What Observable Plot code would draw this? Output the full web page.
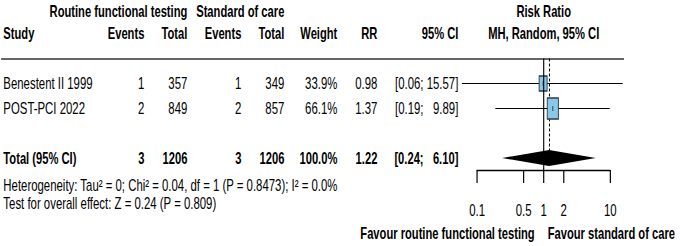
<!DOCTYPE html>
<html>
<head>
<meta charset="utf-8">
<script src="https://cdn.jsdelivr.net/npm/d3@7"></script>
<script src="https://cdn.jsdelivr.net/npm/@observablehq/plot@0.6"></script>
<style>
  html, body { margin: 0; padding: 0; background: #fff; }
  #chart { position: relative; width: 680px; height: 246px; }
  #chart svg { position: absolute; left: 0; top: 0; overflow: visible; }
</style>
</head>
<body>
<div id="chart"></div>
<script>
// ---- data ----
const studies = ["Benestent II 1999", "POST-PCI 2022"];
const eventsRoutine = [1, 2];
const totalRoutine = [357, 849];
const eventsStandard = [1, 2];
const totalStandard = [349, 857];
const weights = [33.9, 66.1];
const rr = [0.98, 1.37];
const ciLower = [0.06, 0.19];
const ciUpper = [15.57, 9.89];
const pooledLabel = "Total (95% CI)";
const pooledEventsRoutine = 3;
const pooledTotalRoutine = 1206;
const pooledEventsStandard = 3;
const pooledTotalStandard = 1206;
const pooledWeight = 100.0;
const pooledRR = 1.22;
const pooledLower = 0.24;
const pooledUpper = 6.10;
const heterogeneityText = "Heterogeneity: Tau\u00B2 = 0; Chi\u00B2 = 0.04, df = 1 (P = 0.8473); I\u00B2 = 0.0%";
const overallText = "Test for overall effect: Z = 0.24 (P = 0.809)";
const axisTicks = [0.1, 0.5, 1, 2, 10];
const favourLeft = "Favour routine functional testing";
const favourRight = "Favour standard of care";

// ---- layout ----
// Drawn in a wider virtual space, then squeezed horizontally (like the reference).
const W = 680, H = 246, S = 0.703;
const WV = W / S;
const px = v => v / S; // screen px -> virtual x
const FONT = "'Liberation Sans', Arial, Helvetica, sans-serif";
const FS = 16.2, FSB = 15.9;
const rowY = [83, 108];
const totalY = 158;
const head1Y = 11, head2Y = 33, sepY = 58.5;
const hetY = 185, testY = 203;
const axisY = 170, tickEndY = 183, tickLabelY = 210, favourY = 233;
const col = {study: px(3), ev1: px(144), tot1: px(187), ev2: px(241), tot2: px(284), weight: px(337), rr: px(377), ci: px(458)};

const fmtCI = (l, u) => `[${l.toFixed(2)}; ${u.toFixed(2).padStart(5, "\u2007")}]`;

const rows = studies.map((s, i) => ({
  study: s, e1: eventsRoutine[i], t1: totalRoutine[i], e2: eventsStandard[i], t2: totalStandard[i],
  w: weights[i], rr: rr[i], lo: ciLower[i], hi: ciUpper[i], y: rowY[i]
}));
const pooled = {study: pooledLabel, e1: pooledEventsRoutine, t1: pooledTotalRoutine, e2: pooledEventsStandard,
  t2: pooledTotalStandard, w: pooledWeight, rr: pooledRR, lo: pooledLower, hi: pooledUpper, y: totalY};

const numCols = [
  ["ev1", d => String(d.e1)], ["tot1", d => String(d.t1)], ["ev2", d => String(d.e2)], ["tot2", d => String(d.t2)],
  ["weight", d => d.w.toFixed(1) + "%"], ["rr", d => d.rr.toFixed(2)], ["ci", d => fmtCI(d.lo, d.hi)]
];

const headers2 = [
  {t: "Events", x: col.ev1}, {t: "Total", x: col.tot1},
  {t: "Events", x: col.ev2}, {t: "Total", x: col.tot2},
  {t: "Weight", x: col.weight}, {t: "RR", x: col.rr}, {t: "95% CI", x: col.ci}
];
const headers1 = [
  {t: "Routine functional testing", x: col.tot1}, {t: "Standard of care", x: col.tot2}
];

const txt = {fontFamily: FONT, fontSize: FS, fill: "#000", lineAnchor: "middle"};
const bold = {...txt, fontWeight: "bold", fontSize: FSB};

function squeeze(svg) {
  svg.setAttribute("width", W);
  svg.setAttribute("height", H);
  svg.setAttribute("viewBox", `0 0 ${WV} ${H}`);
  svg.setAttribute("preserveAspectRatio", "none");
  return svg;
}

// ---- table layer ----
const table = Plot.plot({
  width: WV, height: H, margin: 0,
  x: {domain: [0, WV], range: [0, WV], axis: null},
  y: {domain: [0, H], range: [0, H], axis: null},
  style: {fontFamily: FONT, background: "transparent"},
  marks: [
    Plot.text(headers1, {x: "x", y: () => head1Y, text: "t", textAnchor: "end", ...bold}),
    Plot.text(["Study"], {x: () => col.study, y: () => head2Y, text: d => d, textAnchor: "start", ...bold}),
    Plot.text(headers2, {x: "x", y: () => head2Y, text: "t", textAnchor: "end", ...bold}),
    Plot.ruleY([sepY], {x1: px(1), x2: px(624), stroke: "#333", strokeWidth: 1.5}),
    Plot.text(rows, {x: () => col.study, y: "y", text: "study", textAnchor: "start", ...txt}),
    ...numCols.map(([k, f]) => Plot.text(rows, {x: () => col[k], y: "y", text: f, textAnchor: "end", ...txt})),
    Plot.text([pooled], {x: () => col.study, y: "y", text: "study", textAnchor: "start", ...bold}),
    ...numCols.map(([k, f]) => Plot.text([pooled], {x: () => col[k], y: "y", text: f, textAnchor: "end", ...bold})),
    Plot.text([heterogeneityText], {x: () => col.study, y: () => hetY, text: d => d, textAnchor: "start", ...txt}),
    Plot.text([overallText], {x: () => col.study, y: () => testY, text: d => d, textAnchor: "start", ...txt})
  ]
});

// ---- box symbol (taller than wide on screen, with a tick at the estimate) ----
const boxSymbol = {
  draw(ctx, size) {
    const r = Math.sqrt(size / Math.PI);
    const hw = r * 0.53 / S;
    ctx.moveTo(-hw, -r); ctx.lineTo(hw, -r); ctx.lineTo(hw, r); ctx.lineTo(-hw, r); ctx.closePath();
    ctx.moveTo(0, -2.5); ctx.lineTo(0, 2.5);
  }
};

const diamond = [
  {x: pooled.lo, y1: totalY, y2: totalY},
  {x: pooled.rr, y1: totalY - 8, y2: totalY + 8},
  {x: pooled.hi, y1: totalY, y2: totalY}
];

// ---- forest layer ----
const forest = Plot.plot({
  width: WV, height: H, margin: 0,
  x: {type: "log", domain: [0.1, 10], range: [px(476.7), px(610)], axis: null},
  y: {domain: [0, H], range: [0, H], axis: null},
  r: {type: "sqrt", domain: [0, 100], range: [0, 12.9]},
  style: {fontFamily: FONT, background: "transparent"},
  marks: [
    Plot.text(["Risk Ratio"], {x: () => 1, y: () => head1Y, text: d => d, ...bold}),
    Plot.text(["MH, Random, 95% CI"], {x: () => 1, y: () => head2Y, text: d => d, ...bold}),
    Plot.ruleY(rows, {y: "y", x1: "lo", x2: "hi", stroke: "#000", strokeWidth: 1.2}),
    Plot.ruleX([pooled.rr], {y1: sepY, y2: totalY - 8, stroke: "#000", strokeWidth: 1.4, strokeDasharray: "3,2"}),
    Plot.dot(rows, {x: "rr", y: "y", r: "w", symbol: boxSymbol, fill: "#89c8e6", stroke: "#2b3a4a", strokeWidth: 1.3}),
    Plot.ruleX([1], {y1: sepY, y2: axisY, stroke: "#000", strokeWidth: 1.6}),
    Plot.areaY(diamond, {x: "x", y1: "y1", y2: "y2", fill: "#000", curve: "linear"}),
    Plot.ruleY([axisY], {x1: axisTicks[0], x2: axisTicks[axisTicks.length - 1], stroke: "#000", strokeWidth: 1.3}),
    Plot.ruleX(axisTicks, {x: d => d, y1: axisY, y2: tickEndY, stroke: "#000", strokeWidth: 1.7}),
    Plot.text(axisTicks, {x: d => d, y: () => tickLabelY, text: d => String(d), ...txt}),
    Plot.text([favourLeft], {x: () => 1, y: () => favourY, text: d => d, dx: -px(9), textAnchor: "end", ...bold}),
    Plot.text([favourRight], {x: () => 1, y: () => favourY, text: d => d, dx: px(4), textAnchor: "start", ...bold})
  ]
});

document.getElementById("chart").append(squeeze(table), squeeze(forest));
</script>
</body>
</html>
